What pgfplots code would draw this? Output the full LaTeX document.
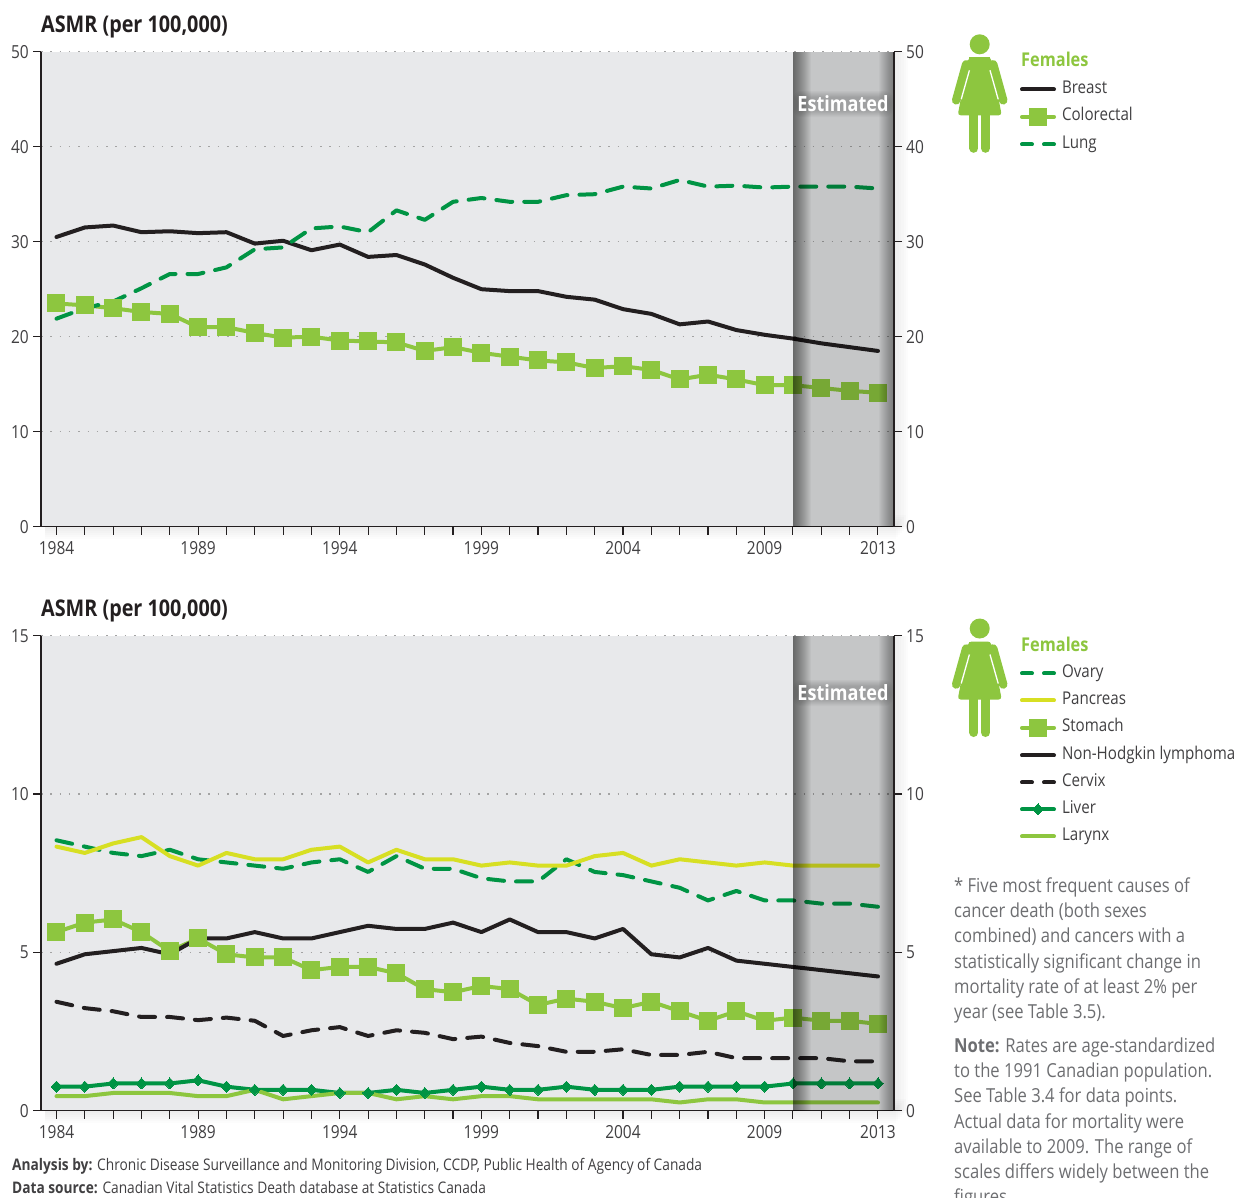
\documentclass[border=0pt]{standalone}
\usepackage{fontspec}
\setmainfont[FakeStretch=0.86]{Open Sans}
\usepackage{pgfplots}
\pgfplotsset{compat=1.18}
\definecolor{cblack}{HTML}{231F20}
\definecolor{cdark}{HTML}{009444}
\definecolor{clight}{HTML}{8DC63F}
\definecolor{cyellow}{HTML}{D7DF23}
\definecolor{cbg}{HTML}{E8E9EB}
\definecolor{ctxt}{HTML}{414042}
\definecolor{cnote}{HTML}{6D6E71}
\newcommand{\fs}[1]{\fontsize{#1pt}{#1pt}\selectfont}
\pgfplotsset{
 panel/.style={
  scale only axis, width=853pt, height=475pt,
  anchor=north west,
  xmin=1983.453, xmax=2013.565,
  axis line style={cblack,line width=1.4pt},
  tick style={cblack,line width=1.1pt},
  tick align=outside, major tick length=8pt,
  /pgf/number format/assume math mode=true,
  tick label style={font=\fs{18},color=ctxt},
  yticklabel style={inner sep=0pt,xshift=-4pt},
  xticklabel style={inner sep=0pt,yshift=-7pt},
 },
 dat/.style={line width=4pt,line cap=round,line join=round},
 sq/.style={mark=square*,mark size=8.5pt,mark options={solid,draw=clight,fill=clight,line width=0pt,line join=miter},mark repeat=1},
 legendbase/.style={
  legend cell align=left,
  legend style={draw=none,fill=none,inner sep=0pt,outer sep=0pt,anchor=north west,
    row sep=11pt,font=\fs{17.6},text=ctxt,column sep=6pt,
    nodes={inner sep=0pt,text height=12pt,text depth=4pt}},
  legend image code/.code={\draw[##1,mark repeat=2,mark phase=2] plot coordinates {(0pt,0pt)(16pt,0pt)(32pt,0pt)};},
 },
}
\newcommand{\femaleicon}[2]{%
 \begin{scope}[shift={(#1pt,-#2pt)},clight]
  \fill (0,0) circle (10pt);
  \fill[rounded corners=3pt] (-11pt,-13pt) -- (11pt,-13pt) -- (22pt,-71pt) -- (-22pt,-71pt) -- cycle;
  \draw[line width=8.5pt,line cap=round] (-13.5pt,-20pt) -- (-23.5pt,-56pt);
  \draw[line width=8.5pt,line cap=round] (13.5pt,-20pt) -- (23.5pt,-56pt);
  \fill (-10.5pt,-13pt) rectangle (10.5pt,-25pt);
  \draw[white,line width=1.3pt] (-10.3pt,-26pt) -- (-18.5pt,-55pt);
  \draw[white,line width=1.3pt] (10.3pt,-26pt) -- (18.5pt,-55pt);
  \draw[line width=9pt,line cap=round] (-5.8pt,-70pt) -- (-5.8pt,-104pt);
  \draw[line width=9pt,line cap=round] (5.8pt,-70pt) -- (5.8pt,-104pt);
 \end{scope}}
\newcommand{\panelshadow}[1]{%
 \foreach \i in {1,...,6}{\fill[black,opacity=.012] (45pt,-#1pt-475pt+\i*2pt) rectangle (894pt+\i*2pt,-#1pt-475pt-14pt+\i*2pt);
   \fill[black,opacity=.012] (894pt,-#1pt) rectangle (894pt+\i*2.4pt,-#1pt-475pt);}}
\newcommand{\band}[1]{%
 \fill[black,opacity=.15] (793pt,-#1pt) rectangle (894pt,-#1pt-475pt);
 \foreach \k in {1,...,18}{\fill[black,opacity=.032] (793pt,-#1pt) rectangle (793pt+\k pt,-#1pt-475pt);}
 \foreach \k in {1,...,15}{\fill[black,opacity=.026] (894pt-\k pt,-#1pt) rectangle (894pt,-#1pt-475pt);}
}
\newcommand{\esttext}[1]{%
 \foreach \k in {0,...,7}{\fill[black,opacity=.025,rounded corners=8pt] (793pt+\k pt,-#1pt-\k pt*0.9+13pt) rectangle (893pt-\k pt,-#1pt+\k pt*0.9-13pt);}
 \node[white,font=\bfseries\fs{21},inner sep=0pt] at (843pt,-#1pt) {Estimated};
}
\begin{document}
\begin{tikzpicture}
\clip (0pt,0pt) rectangle (1237pt,-1197pt);
\fill[white] (0pt,0pt) rectangle (1237pt,-1197pt);
\panelshadow{51.7}
\panelshadow{635.7}
% ---------- top panel
\begin{axis}[panel,at={(41pt,-51.7pt)},legendbase,
  ymin=0,ymax=50,ytick={0,10,20,30,40,50},
  xtick={1984,...,2013},
  xticklabels={1984,,,,,1989,,,,,1994,,,,,1999,,,,,2004,,,,,2009,,,,2013},
  axis y line*=left,axis x line*=bottom,
  axis background/.style={fill=cbg},
  ymajorgrids,grid style={line width=1.2pt,color=black!36,dash pattern=on 1.5pt off 7.8pt},
  legend style={at={(1.1477,0.9375)}},
]
\addplot[dat,cblack] coordinates {(1984,30.5)(1985,31.5)(1986,31.7)(1987,31.0)(1988,31.1)(1989,30.9)(1990,31.0)(1991,29.8)(1992,30.1)(1993,29.1)(1994,29.7)(1995,28.4)(1996,28.6)(1997,27.6)(1998,26.2)(1999,25.0)(2000,24.8)(2001,24.8)(2002,24.2)(2003,23.9)(2004,22.9)(2005,22.4)(2006,21.3)(2007,21.6)(2008,20.7)(2009,20.2)(2010,19.8)(2011,19.3)(2012,18.9)(2013,18.5)};
\addlegendentry{Breast}
\addplot[dat,clight,sq] coordinates {(1984,23.5)(1985,23.3)(1986,23.0)(1987,22.6)(1988,22.4)(1989,21.0)(1990,21.0)(1991,20.4)(1992,19.9)(1993,20.0)(1994,19.6)(1995,19.5)(1996,19.4)(1997,18.5)(1998,18.9)(1999,18.3)(2000,17.9)(2001,17.5)(2002,17.3)(2003,16.7)(2004,16.9)(2005,16.5)(2006,15.5)(2007,16.0)(2008,15.5)(2009,14.9)(2010,14.9)(2011,14.6)(2012,14.3)(2013,14.1)};
\addlegendentry{Colorectal}
\addplot[dat,cdark,dash pattern=on 16pt off 12pt,legend image post style={dash pattern=on 10pt off 12pt}] coordinates {(1984,21.9)(1985,23.0)(1986,23.7)(1987,25.1)(1988,26.6)(1989,26.6)(1990,27.3)(1991,29.2)(1992,29.4)(1993,31.4)(1994,31.6)(1995,31.0)(1996,33.3)(1997,32.3)(1998,34.2)(1999,34.6)(2000,34.2)(2001,34.2)(2002,34.9)(2003,35.0)(2004,35.8)(2005,35.6)(2006,36.5)(2007,35.8)(2008,35.9)(2009,35.7)(2010,35.8)(2011,35.8)(2012,35.8)(2013,35.6)};
\addlegendentry{Lung}
\end{axis}
\band{51.7}
\begin{axis}[panel,at={(41pt,-51.7pt)},ymin=0,ymax=50,ytick={0,10,20,30,40,50},
  axis y line*=right,axis x line=none,yticklabel style={xshift=8pt}]
\end{axis}
\esttext{104}
% ---------- bottom panel
\begin{axis}[panel,at={(41pt,-635.7pt)},legendbase,
  ymin=0,ymax=15,ytick={0,5,10,15},
  xtick={1984,...,2013},
  xticklabels={1984,,,,,1989,,,,,1994,,,,,1999,,,,,2004,,,,,2009,,,,2013},
  axis y line*=left,axis x line*=bottom,
  axis background/.style={fill=cbg},
  ymajorgrids,grid style={line width=1.2pt,color=black!36,dash pattern=on 1.5pt off 7.8pt},
  legend style={at={(1.1477,0.9375)}},
]
\addplot[dat,cdark,dash pattern=on 16pt off 12pt,legend image post style={dash pattern=on 10pt off 12pt}] coordinates {(1984,8.54)(1985,8.34)(1986,8.14)(1987,8.04)(1988,8.24)(1989,7.94)(1990,7.84)(1991,7.74)(1992,7.64)(1993,7.84)(1994,7.94)(1995,7.54)(1996,8.04)(1997,7.64)(1998,7.64)(1999,7.34)(2000,7.24)(2001,7.24)(2002,7.94)(2003,7.54)(2004,7.44)(2005,7.24)(2006,7.04)(2007,6.64)(2008,6.94)(2009,6.64)(2010,6.64)(2011,6.54)(2012,6.54)(2013,6.44)};
\addlegendentry{Ovary}
\addplot[dat,cyellow] coordinates {(1984,8.34)(1985,8.14)(1986,8.44)(1987,8.64)(1988,8.04)(1989,7.74)(1990,8.14)(1991,7.94)(1992,7.94)(1993,8.24)(1994,8.34)(1995,7.84)(1996,8.24)(1997,7.94)(1998,7.94)(1999,7.74)(2000,7.84)(2001,7.74)(2002,7.74)(2003,8.04)(2004,8.14)(2005,7.74)(2006,7.94)(2007,7.84)(2008,7.74)(2009,7.84)(2010,7.74)(2011,7.74)(2012,7.74)(2013,7.74)};
\addlegendentry{Pancreas}
\addplot[dat,clight,sq] coordinates {(1984,5.64)(1985,5.94)(1986,6.04)(1987,5.64)(1988,5.04)(1989,5.44)(1990,4.94)(1991,4.84)(1992,4.84)(1993,4.44)(1994,4.54)(1995,4.54)(1996,4.34)(1997,3.84)(1998,3.74)(1999,3.94)(2000,3.84)(2001,3.34)(2002,3.54)(2003,3.44)(2004,3.24)(2005,3.44)(2006,3.14)(2007,2.84)(2008,3.14)(2009,2.84)(2010,2.94)(2011,2.84)(2012,2.84)(2013,2.74)};
\addlegendentry{Stomach}
\addplot[dat,cblack] coordinates {(1984,4.64)(1985,4.94)(1986,5.04)(1987,5.14)(1988,4.94)(1989,5.44)(1990,5.44)(1991,5.64)(1992,5.44)(1993,5.44)(1994,5.64)(1995,5.84)(1996,5.74)(1997,5.74)(1998,5.94)(1999,5.64)(2000,6.04)(2001,5.64)(2002,5.64)(2003,5.44)(2004,5.74)(2005,4.94)(2006,4.84)(2007,5.14)(2008,4.74)(2009,4.64)(2010,4.54)(2011,4.44)(2012,4.34)(2013,4.24)};
\addlegendentry{Non-Hodgkin lymphoma}
\addplot[dat,cblack,dash pattern=on 16pt off 12pt,legend image post style={dash pattern=on 10pt off 12pt}] coordinates {(1984,3.44)(1985,3.24)(1986,3.14)(1987,2.96)(1988,2.96)(1989,2.86)(1990,2.94)(1991,2.84)(1992,2.36)(1993,2.54)(1994,2.64)(1995,2.36)(1996,2.54)(1997,2.46)(1998,2.26)(1999,2.34)(2000,2.14)(2001,2.04)(2002,1.86)(2003,1.86)(2004,1.94)(2005,1.76)(2006,1.76)(2007,1.86)(2008,1.66)(2009,1.66)(2010,1.66)(2011,1.66)(2012,1.56)(2013,1.56)};
\addlegendentry{Cervix}
\addplot[dat,cdark,mark=diamond*,mark size=5.5pt,mark options={solid,draw=cdark,fill=cdark,line width=0pt,line join=miter,xscale=1.3}] coordinates {(1984,0.76)(1985,0.76)(1986,0.86)(1987,0.86)(1988,0.86)(1989,0.96)(1990,0.76)(1991,0.66)(1992,0.66)(1993,0.66)(1994,0.56)(1995,0.56)(1996,0.66)(1997,0.56)(1998,0.66)(1999,0.76)(2000,0.66)(2001,0.66)(2002,0.76)(2003,0.66)(2004,0.66)(2005,0.66)(2006,0.76)(2007,0.76)(2008,0.76)(2009,0.76)(2010,0.86)(2011,0.86)(2012,0.86)(2013,0.86)};
\addlegendentry{Liver}
\addplot[dat,clight] coordinates {(1984,0.46)(1985,0.46)(1986,0.56)(1987,0.56)(1988,0.56)(1989,0.46)(1990,0.46)(1991,0.66)(1992,0.36)(1993,0.46)(1994,0.56)(1995,0.56)(1996,0.36)(1997,0.46)(1998,0.36)(1999,0.46)(2000,0.46)(2001,0.36)(2002,0.36)(2003,0.36)(2004,0.36)(2005,0.36)(2006,0.26)(2007,0.36)(2008,0.36)(2009,0.26)(2010,0.26)(2011,0.26)(2012,0.26)(2013,0.26)};
\addlegendentry{Larynx}
\end{axis}
\band{635.7}
\begin{axis}[panel,at={(41pt,-635.7pt)},ymin=0,ymax=15,ytick={0,5,10,15},
  axis y line*=right,axis x line=none,yticklabel style={xshift=8pt}]
\end{axis}
\esttext{693}
% ---------- titles
\node[anchor=base west,inner sep=0pt,font=\bfseries\fs{23},text=cblack] at (41pt,-32pt) {ASMR (per 100,000)};
\node[anchor=base west,inner sep=0pt,font=\bfseries\fs{23},text=cblack] at (41pt,-616pt) {ASMR (per 100,000)};
\femaleicon{979.7}{44.3}
\femaleicon{979.7}{628.5}
\node[anchor=base west,inner sep=0pt,font=\bfseries\fs{19},text=clight] at (1021pt,-66pt) {Females};
\node[anchor=base west,inner sep=0pt,font=\bfseries\fs{19},text=clight] at (1021pt,-651pt) {Females};
% ---------- source
\node[anchor=base west,inner sep=0pt,font=\fs{15.95},text=ctxt] at (12pt,-1170pt) {\textbf{Analysis by:} Chronic Disease Surveillance and Monitoring Division, CCDP, Public Health of Agency of Canada};
\node[anchor=base west,inner sep=0pt,font=\fs{15.95},text=ctxt] at (12pt,-1193pt) {\textbf{Data source:} Canadian Vital Statistics Death database at Statistics Canada};
% ---------- notes
\foreach \y/\t in {892/{* Five most frequent causes of},917/{cancer death (both sexes},942/{combined) and cancers with a},968/{statistically significant change in},993/{mortality rate of at least 2\% per},1018/{year (see Table 3.5).},1052/{\textbf{Note:} Rates are age-standardized},1077/{to the 1991 Canadian population.},1102/{See Table 3.4 for data points.},1128/{Actual data for mortality were},1153/{available to 2009. The range of},1178/{scales differs widely between the},1203/{figures.}}
 {\node[anchor=base west,inner sep=0pt,font=\fs{19.3},text=cnote] at (954pt,-\y pt) {\t};}
\end{tikzpicture}
\end{document}
